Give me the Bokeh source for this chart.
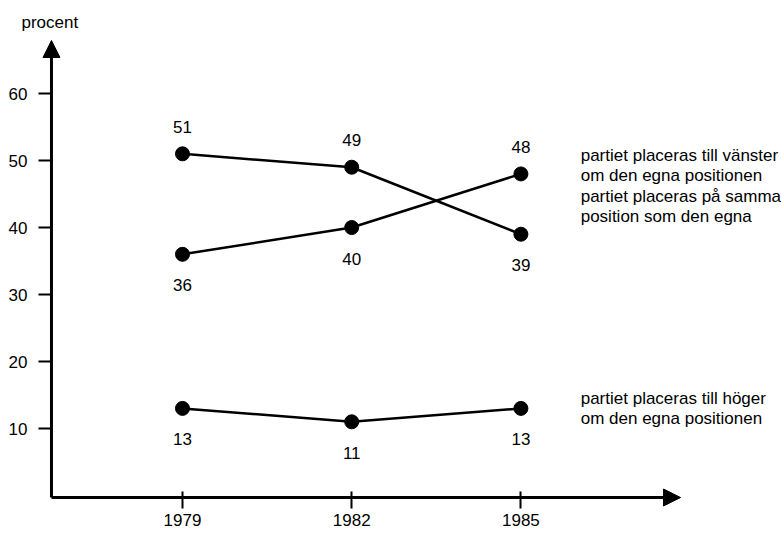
from bokeh.plotting import figure
from bokeh.models import FixedTicker, Arrow, NormalHead, Range1d, ColumnDataSource
from bokeh.core.properties import value
from bokeh.embed import file_html
from bokeh.resources import INLINE

# --- data -------------------------------------------------------------
years = [1979, 1982, 1985]
series_a = [51, 49, 39]
series_b = [36, 40, 48]
series_c = [13, 11, 13]
y_ticks = [10, 20, 30, 40, 50, 60]
y_title = "procent"
legend_lines = [
    ("partiet placeras till vänster", "om den egna positionen"),
    ("partiet placeras på samma", "position som den egna"),
    ("partiet placeras till höger", "om den egna positionen"),
]

# --- layout constants -------------------------------------------------
FONT = "Liberation Sans"
FS = "17px"
X0, X1 = 1976.447, 1989.62      # frame spans x = 38 .. 781 px
Y0, Y1 = -1.94, 68.81           # frame spans y = 34 .. 508 px
AX_X = 1976.677                 # where the vertical axis line sits
AX_Y = -0.3                     # where the horizontal axis line sits
X_TIP = 1987.83
Y_TIP = 67.91

p = figure(width=781, height=533, x_range=Range1d(X0, X1), y_range=Range1d(Y0, Y1),
           output_backend="svg", toolbar_location=None, title=y_title,
           min_border_left=38, min_border_right=0, min_border_top=34, min_border_bottom=25)
p.outline_line_color = None
p.grid.visible = False

p.title.text_font = FONT
p.title.text_font_size = FS
p.title.text_font_style = "normal"
p.title.text_color = "black"
p.title.align = "left"
p.title.offset = -17
p.title.standoff = 5

# tick marks and labels come from the axes; the axis lines themselves are arrows
for ax in (p.xaxis[0], p.yaxis[0]):
    ax.axis_line_color = None
    ax.major_tick_line_width = 2
    ax.major_tick_line_color = "black"
    ax.minor_tick_line_color = None
    ax.major_label_text_font = FONT
    ax.major_label_text_font_size = FS
    ax.major_label_text_color = "black"

p.xaxis.ticker = FixedTicker(ticks=years)
p.xaxis.major_tick_in = 17
p.xaxis.major_tick_out = 0
p.xaxis.major_label_standoff = 5

p.yaxis.ticker = FixedTicker(ticks=y_ticks)
p.yaxis.major_tick_in = 13
p.yaxis.major_tick_out = 0
p.yaxis.major_label_standoff = 11

head = dict(size=17, fill_color="black", line_color="black")
p.add_layout(Arrow(end=NormalHead(**head), x_start=AX_X, y_start=AX_Y, x_end=AX_X, y_end=Y_TIP,
                   line_color="black", line_width=3))
p.add_layout(Arrow(end=NormalHead(**head), x_start=AX_X, y_start=AX_Y, x_end=X_TIP, y_end=AX_Y,
                   line_color="black", line_width=3))

# series
for vals in (series_a, series_b, series_c):
    p.line(years, vals, line_color="black", line_width=2.5)
    p.scatter(years, vals, size=14, fill_color="black", line_color="black")

# value labels: upper of the crossing pair above, the rest below
lab_x, lab_y, lab_t, lab_off = [], [], [], []
for i, yr in enumerate(years):
    hi = max(series_a[i], series_b[i])
    for v in (series_a[i], series_b[i], series_c[i]):
        lab_x.append(yr)
        lab_y.append(v)
        lab_t.append(str(v))
        lab_off.append(-27 if (v == hi and v != series_c[i]) else 31)
src = ColumnDataSource(dict(x=lab_x, y=lab_y, t=lab_t, off=lab_off))
p.text(x="x", y="y", text="t", y_offset="off", source=src, text_font=value(FONT),
       text_font_size=FS, text_align="center", text_baseline="middle", text_color="black")

# right-hand descriptions
LX = 1986.06
first_line_y = [50.75, 44.63, 14.48]
for (l1, l2), yy in zip(legend_lines, first_line_y):
    p.text(x=[LX, LX], y=[yy, yy], text=[l1, l2], y_offset=[0, 20], text_font=value(FONT),
           text_font_size=FS, text_align="left", text_baseline="middle", text_color="black")

open("out.html", "w").write(file_html(p, INLINE))
